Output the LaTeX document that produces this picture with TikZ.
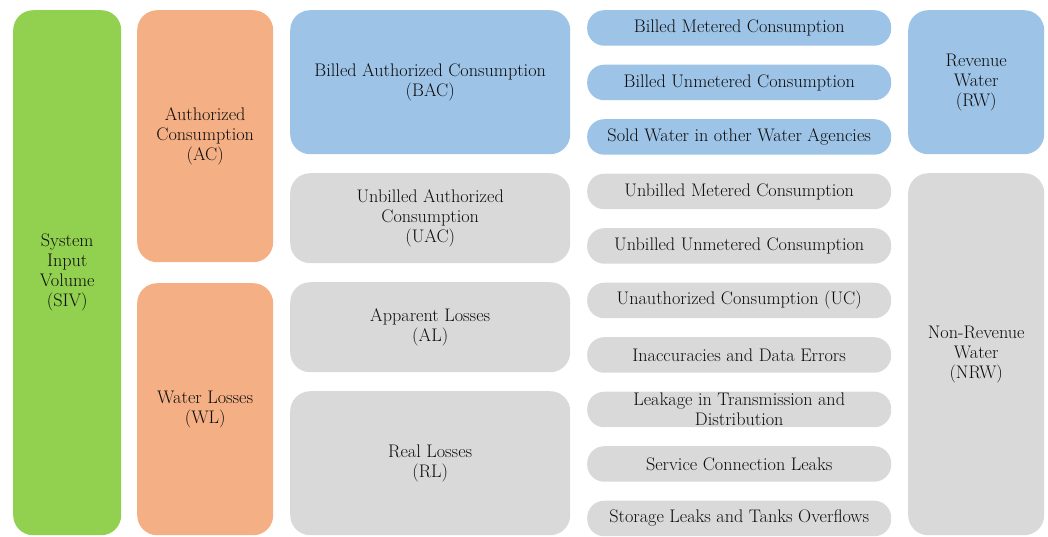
\documentclass[tikz,border=0pt]{standalone}
\usetikzlibrary{positioning}
\definecolor{sivgreen}{RGB}{146,208,80}
\definecolor{acorange}{RGB}{244,176,132}
\definecolor{revblue}{RGB}{157,195,230}
\definecolor{nrevgray}{RGB}{217,217,217}

\begin{document}
\begin{tikzpicture}[x=1pt, y=-1pt,
    block/.style={anchor=north west, rounded corners=20pt, inner sep=0pt, align=center, text=black!95, font=\fontsize{18.2}{20}\selectfont},
    pill/.style={block, rounded corners=17pt, minimum width=304pt, minimum height=35.5pt},
    rev pill/.style={pill, fill=revblue},
    nrev pill/.style={pill, fill=nrevgray}
  ]
  \useasboundingbox (0,0) rectangle (1048,536);
  \def\pillx{587}
  \def\pillstep{54.5}

  % first two columns
  \node [block, fill=sivgreen, minimum width=108pt, minimum height=525pt] (siv) at (13,10) {System\\Input\\Volume\\(SIV)};
  \node [block, fill=acorange, minimum width=136pt, minimum height=252pt] (ac) at (137,10) {Authorized\\Consumption\\(AC)};
  \node [block, fill=acorange, minimum width=136pt, minimum height=252pt] (wl) at (137,283) {Water Losses\\(WL)};

  % third column
  \node [block, fill=revblue, minimum width=280pt, minimum height=144pt] (bac) at (290,10) {Billed Authorized Consumption\\(BAC)};
  \node [block, fill=nrevgray, minimum width=280pt, minimum height=90pt] (uac) at (290,173) {Unbilled Authorized\\Consumption\\(UAC)};
  \node [block, fill=nrevgray, minimum width=280pt, minimum height=90pt] (al) at (290,282) {Apparent Losses\\(AL)};
  \node [block, fill=nrevgray, minimum width=280pt, minimum height=144pt] (rl) at (290,391) {Real Losses\\(RL)};

  % components
  \foreach \name/\i/\sty/\txt in {bmc/0/rev pill/Billed Metered Consumption,
      buc/1/rev pill/Billed Unmetered Consumption,
      sold/2/rev pill/Sold Water in other Water Agencies,
      umc/3/nrev pill/Unbilled Metered Consumption,
      uuc/4/nrev pill/Unbilled Unmetered Consumption,
      uc/5/nrev pill/Unauthorized Consumption (UC),
      err/6/nrev pill/Inaccuracies and Data Errors,
      ltd/7/nrev pill/Leakage in Transmission and\\Distribution,
      scl/8/nrev pill/Service Connection Leaks,
      slt/9/nrev pill/Storage Leaks and Tanks Overflows}
    \node [\sty] (\name) at (\pillx, 10+\i*\pillstep) {\txt};

  % last column
  \node [block, fill=revblue, minimum width=136pt, minimum height=144pt] (rw) at (908,10) {Revenue\\Water\\(RW)};
  \node [block, fill=nrevgray, minimum width=136pt, minimum height=362pt] (nrw) at (908,173) {Non-Revenue\\Water\\(NRW)};
\end{tikzpicture}
\end{document}
